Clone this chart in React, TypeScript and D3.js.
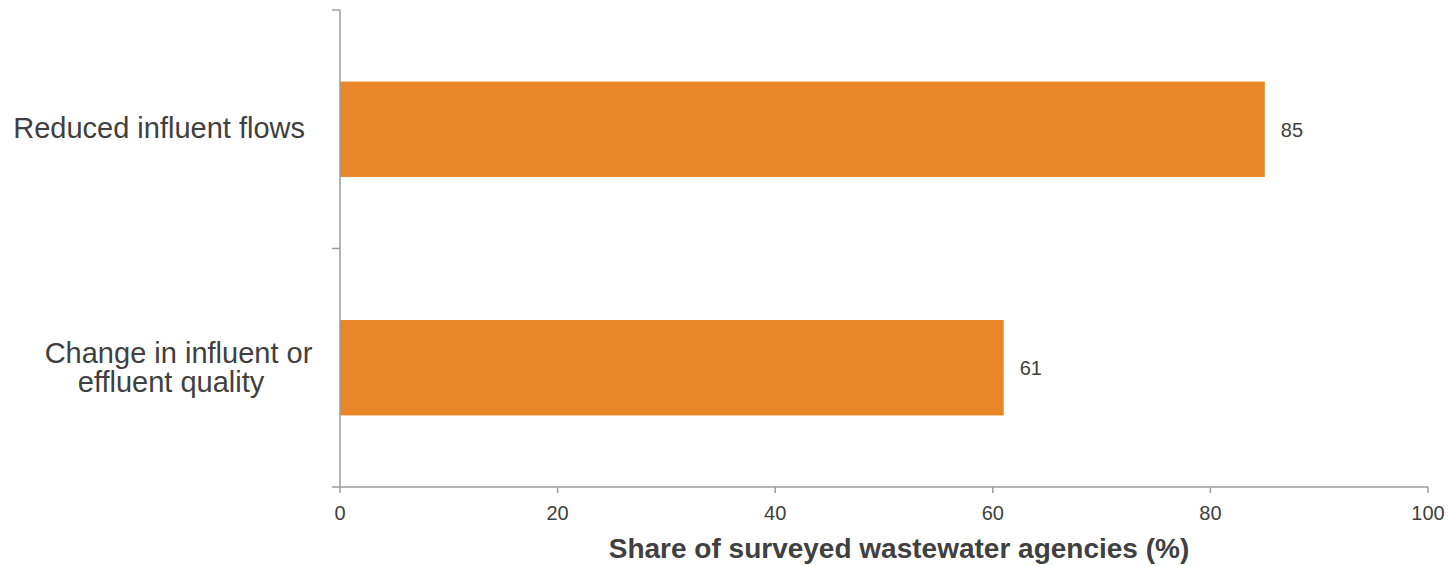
import React from "react";
import * as d3 from "d3";

const categories: string[][] = [["Reduced influent flows"], ["Change in influent or", "effluent quality"]];
const values: number[] = [85, 61];
const xTicks: number[] = [0, 20, 40, 60, 80, 100];
const xTitle = "Share of surveyed wastewater agencies (%)";

const W = 1449;
const H = 566;
const margin = { left: 340, right: 21, top: 10, bottom: 79 };
const BAR = "#E98627";
const AXIS = "#9B9B9B";
const TEXT = "#404040";
const FONT = "'Liberation Sans', Arial, sans-serif";

export default function App() {
  const x = d3.scaleLinear().domain([0, 100]).range([margin.left, W - margin.right]);
  const y = d3
    .scaleBand<number>()
    .domain(categories.map((_, i) => i))
    .range([margin.top, H - margin.bottom])
    .paddingInner(0.6)
    .paddingOuter(0.3);
  const y0 = margin.top;
  const y1 = H - margin.bottom;
  const bandStep = (y1 - y0) / categories.length;
  const boundaries = d3.range(categories.length + 1).map((i) => y0 + i * bandStep);

  return (
    <svg
      width={W}
      height={H}
      style={{ position: "absolute", left: 0, top: 0, background: "#fff" }}
      fontFamily={FONT}
    >
      {values.map((v, i) => {
        const yy = y(i)!;
        const c = yy + y.bandwidth() / 2;
        return (
          <g key={i}>
            <rect x={x(0)} y={yy} width={x(v) - x(0)} height={y.bandwidth()} fill={BAR} />
            <text x={x(v) + 16} y={c + 7.5} fontSize={20} fill={TEXT}>
              {v}
            </text>
          </g>
        );
      })}
      {/* y axis */}
      <line x1={x(0)} x2={x(0)} y1={y0} y2={y1} stroke={AXIS} strokeWidth={1.5} />
      {boundaries.map((b, i) => (
        <line key={i} x1={x(0) - 8} x2={x(0)} y1={b} y2={b} stroke={AXIS} strokeWidth={1.5} />
      ))}
      {/* x axis */}
      <line x1={x(0)} x2={x(100)} y1={y1} y2={y1} stroke={AXIS} strokeWidth={1.5} />
      {xTicks.map((t) => (
        <g key={t}>
          <line x1={x(t)} x2={x(t)} y1={y1} y2={y1 + 6} stroke={AXIS} strokeWidth={1.5} />
          <text x={x(t)} y={y1 + 33} fontSize={20} fill={TEXT} textAnchor="middle">
            {t}
          </text>
        </g>
      ))}
      {/* category labels */}
      {categories.map((lines, i) => {
        const c = y(i)! + y.bandwidth() / 2;
        if (lines.length === 1) {
          return (
            <text key={i} x={305} y={c + 9} fontSize={29} fill={TEXT} textAnchor="end">
              {lines[0]}
            </text>
          );
        }
        return (
          <g key={i}>
            <text x={178.5} y={c - 5} fontSize={29} fill={TEXT} textAnchor="middle">
              {lines[0]}
            </text>
            <text x={171} y={c + 24.5} fontSize={29} fill={TEXT} textAnchor="middle">
              {lines[1]}
            </text>
          </g>
        );
      })}
      <text x={899} y={558} fontSize={28} fontWeight="bold" fill={TEXT} textAnchor="middle">
        {xTitle}
      </text>
    </svg>
  );
}
